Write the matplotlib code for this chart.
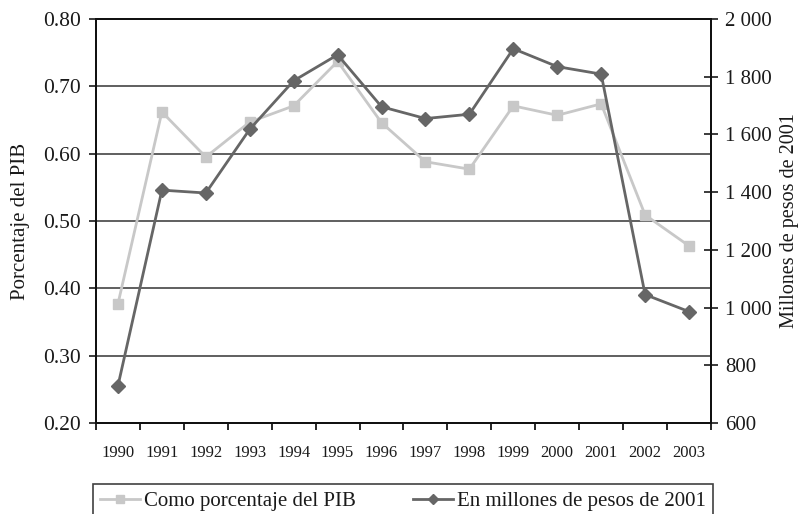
import matplotlib
matplotlib.use("Agg")
import matplotlib.pyplot as plt
from matplotlib.ticker import FuncFormatter, FixedLocator

plt.rcParams['font.family'] = ['Liberation Serif', 'DejaVu Serif']

years = ['1990', '1991', '1992', '1993', '1994', '1995', '1996',
         '1997', '1998', '1999', '2000', '2001', '2002', '2003']
pct_pib = [0.377, 0.662, 0.595, 0.647, 0.671, 0.737, 0.646,
           0.588, 0.577, 0.671, 0.657, 0.674, 0.509, 0.463]
millones = [729, 1407, 1397, 1618, 1786, 1876, 1696,
            1655, 1670, 1897, 1835, 1809, 1045, 986]

left_ticks = [0.20, 0.30, 0.40, 0.50, 0.60, 0.70, 0.80]
right_ticks = [600, 800, 1000, 1200, 1400, 1600, 1800, 2000]

light = '#c8c8c8'
dark = '#666666'
txt = '#1a1a1a'

fig = plt.figure(figsize=(8.03, 5.14), dpi=100)
ax = fig.add_axes([96 / 803, 1 - 423 / 514, (711 - 96) / 803, (423 - 19) / 514])
x = list(range(len(years)))

# horizontal grid from the left scale
for t in left_ticks[1:-1]:
    ax.axhline(t, color='#444444', lw=1.2, zorder=0)

l1, = ax.plot(x, pct_pib, color=light, lw=2, marker='s', ms=7.5,
              mec=light, mfc=light, label='Como porcentaje del PIB', zorder=3)
ax.set_ylim(0.2, 0.8)
ax.set_yticks(left_ticks)
ax.yaxis.set_major_formatter(FuncFormatter(lambda v, p: f'{v:.2f}'))
ax.set_xlim(-0.5, len(years) - 0.5)
ax.set_xticks(x)
ax.set_xticklabels(years)
ax.xaxis.set_minor_locator(FixedLocator([i + 0.5 for i in range(-1, len(years))]))
ax.tick_params(axis='x', which='major', length=0, labelsize=12, colors=txt, pad=16)
ax.tick_params(axis='x', which='minor', length=5, direction='out', width=1.2)
ax.tick_params(axis='y', length=5, direction='out', labelsize=15.5, colors=txt,
               width=1.2, pad=6)
ax.set_ylabel('Porcentaje del PIB', fontsize=15, color=txt, labelpad=9)

ax2 = ax.twinx()
l2, = ax2.plot(x, millones, color=dark, lw=2, marker='D', ms=7,
               mec=dark, mfc=dark, label='En millones de pesos de 2001', zorder=4)
ax2.set_ylim(600, 2000)
ax2.set_yticks(right_ticks)
ax2.yaxis.set_major_formatter(FuncFormatter(lambda v, p: f'{int(v):,}'.replace(',', ' ')))
ax2.tick_params(axis='y', length=10, direction='inout', labelsize=15, colors=txt,
                width=1.2, pad=5)
ax2.set_ylabel('Millones de pesos de 2001', fontsize=14.5, color=txt, labelpad=6)

for a in (ax, ax2):
    for s in a.spines.values():
        s.set_linewidth(1.4)
        s.set_color('#111111')

leg = fig.legend(handles=[l1, l2], loc='upper left', ncol=2, mode='expand',
                 bbox_to_anchor=(93 / 803, 1 - 484 / 514, (713 - 93) / 803, 0),
                 fontsize=15, frameon=True, fancybox=False, handlelength=1.9,
                 handletextpad=0.2, markerscale=0.8,
                 borderaxespad=0, borderpad=0.35, columnspacing=1.5)
leg.get_frame().set_edgecolor('#111111')
leg.get_frame().set_linewidth(1.2)
for t in leg.get_texts():
    t.set_color(txt)

fig.savefig('out.png', dpi=100)
